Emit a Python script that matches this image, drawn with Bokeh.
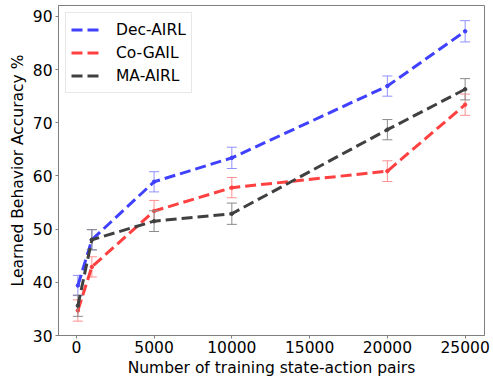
import numpy as np
from bokeh.plotting import figure
from bokeh.models import ColumnDataSource, Legend, LegendItem, FixedTicker, Range1d
from bokeh.embed import file_html
from bokeh.resources import INLINE

# ---- data ----
x_pairs = [100, 1000, 5000, 10000, 20000, 25000]
series_names = ["Dec-AIRL", "Co-GAIL", "MA-AIRL"]
dec_airl = [39.4, 48.0, 58.9, 63.4, 76.9, 87.2]
dec_airl_err = [1.9, 1.9, 1.9, 2.0, 1.9, 2.0]
co_gail = [34.7, 42.9, 53.4, 57.8, 60.9, 73.4]
co_gail_err = [2.0, 1.9, 2.0, 1.9, 1.95, 2.0]
ma_airl = [35.6, 48.0, 51.5, 52.9, 68.7, 76.3]
ma_airl_err = [2.0, 1.9, 1.95, 2.0, 1.9, 2.0]
x_ticks = [0, 5000, 10000, 15000, 20000, 25000]
y_ticks = [30, 40, 50, 60, 70, 80, 90]

line_colors = ["#4040ff", "#ff4040", "#404040"]
err_colors = ["#9090ff", "#ff9090", "#8a8a8a"]

FONT = "DejaVu Sans"

p = figure(width=493, height=379, output_backend="svg", toolbar_location=None,
           x_range=Range1d(-1145, 26245), y_range=Range1d(30, 92.05),
           min_border_left=58, min_border_right=9, min_border_top=5, min_border_bottom=41)
p.xgrid.visible = False
p.ygrid.visible = False
p.outline_line_color = "#7f7f7f"
p.outline_line_width = 1
p.background_fill_color = "white"
p.border_fill_color = "white"

for ax in (p.xaxis[0], p.yaxis[0]):
    ax.axis_line_color = "#7f7f7f"
    ax.major_tick_line_color = "#7f7f7f"
    ax.major_tick_in = 0
    ax.major_tick_out = 3
    ax.minor_tick_line_color = None
    ax.major_label_text_font = FONT
    ax.major_label_text_font_size = "15.5px"
    ax.major_label_text_color = "black"
    ax.axis_label_text_font = FONT
    ax.axis_label_text_font_size = "15.5px"
    ax.axis_label_text_font_style = "normal"
    ax.axis_label_text_color = "black"

p.xaxis.ticker = FixedTicker(ticks=x_ticks)
p.yaxis.ticker = FixedTicker(ticks=y_ticks)
p.xaxis.axis_label = "Number of training state-action pairs"
p.yaxis.axis_label = "Learned Behavior Accuracy %"
p.xaxis.major_label_standoff = 2
p.yaxis.major_label_standoff = 3
p.xaxis.axis_label_standoff = 3
p.yaxis.axis_label_standoff = 3

items = []
all_vals = [dec_airl, co_gail, ma_airl]
all_errs = [dec_airl_err, co_gail_err, ma_airl_err]
for name, vals, errs, lc, ec in zip(series_names, all_vals, all_errs, line_colors, err_colors):
    v = np.array(vals)
    e = np.array(errs)
    src = ColumnDataSource(dict(x=x_pairs, y=v, lo=v - e, hi=v + e))
    p.segment(x0="x", y0="lo", x1="x", y1="hi", source=src, line_color=ec, line_width=1)
    p.scatter(x="x", y="lo", source=src, marker="dash", size=10, line_color=ec, line_width=1)
    p.scatter(x="x", y="hi", source=src, marker="dash", size=10, line_color=ec, line_width=1)
    ln = p.line(x="x", y="y", source=src, line_color=lc, line_width=3, line_dash="11 5")
    p.scatter(x="x", y="y", source=src, marker="circle", size=3.5, fill_color=lc, line_color=lc)
    # legend-only error bar symbol
    leg_src = ColumnDataSource(dict(x=[], y=[]))
    cr = p.scatter(x="x", y="y", source=leg_src, marker="cross", size=10, line_color=ec, line_width=1)
    items.append(LegendItem(label=name, renderers=[ln, cr]))

legend = Legend(items=items, location="top_left")
legend.label_text_font = FONT
legend.label_text_font_size = "15.5px"
legend.label_text_color = "black"
legend.glyph_width = 32
legend.glyph_height = 23
legend.spacing = 0
legend.padding = 5
legend.margin = 7
legend.label_standoff = 13
legend.border_line_color = "#d0d0d0"
legend.border_line_width = 1
legend.background_fill_alpha = 0.8
p.add_layout(legend)

open("out.html", "w").write(file_html(p, INLINE))
